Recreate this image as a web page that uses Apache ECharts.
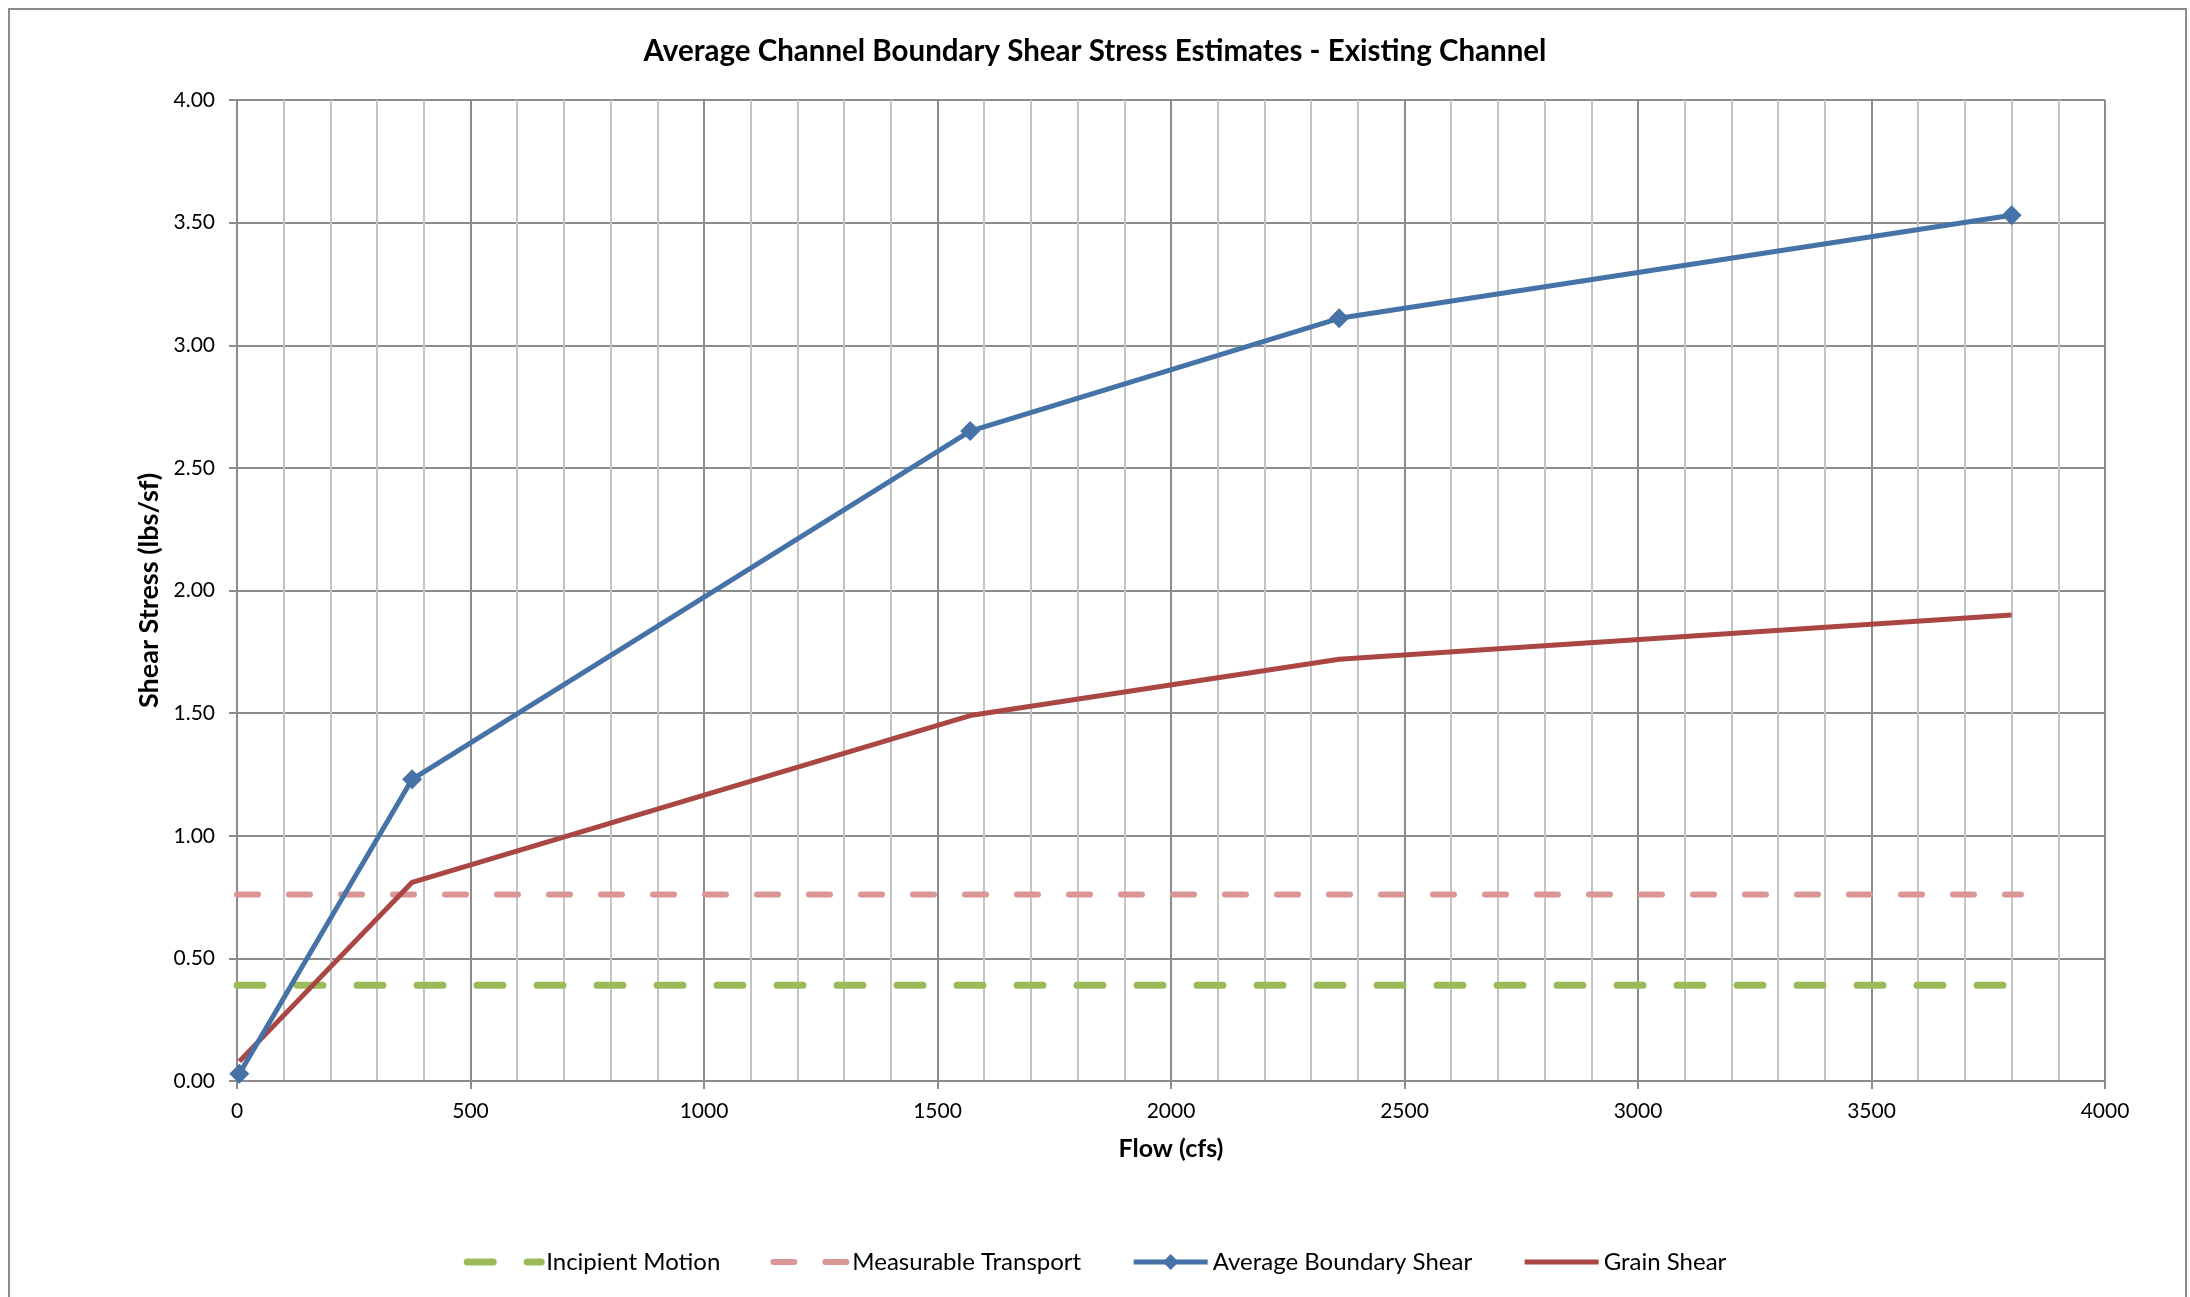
<!DOCTYPE html>
<html>
<head>
<meta charset="utf-8">
<script src="https://cdn.jsdelivr.net/npm/echarts@6/dist/echarts.min.js"></script>
<style>
  html, body { margin: 0; padding: 0; background: #fff; }
  #chart { width: 2190px; height: 1297px; }
</style>
</head>
<body>
<div id="chart"></div>
<script>
  // flows (cfs) and shear stress (lbs/sf)
  const flows = [5, 375, 1570, 2360, 3800];
  const avgBoundaryShear = [0.03, 1.23, 2.65, 3.11, 3.53];
  const grainShear = [0.08, 0.81, 1.49, 1.72, 1.90];
  const incipientFlow = [0, 3800];
  const incipientMotion = [0.39, 0.39];
  const transportFlow = [0, 3820];
  const measurableTransport = [0.76, 0.76];

  const FONT = 'Lato, "Open Sans", sans-serif';

  const pairs = (xs, ys) => xs.map((x, i) => [x, ys[i]]);

  let chart = echarts.init(document.getElementById('chart'));
  let option = {
    backgroundColor: '#fff',
    animation: false,
    textStyle: { fontFamily: FONT, color: '#000' },
    title: {
      text: 'Average Channel Boundary Shear Stress Estimates - Existing Channel',
      left: 'center',
      top: 31,
      textStyle: { fontFamily: FONT, fontSize: 29.5, fontWeight: 'bold', color: '#000' }
    },
    graphic: [{
      type: 'rect',
      shape: { x: 9, y: 9, width: 2177, height: 1320 },
      style: { fill: null, stroke: '#8c8c8c', lineWidth: 2 },
      silent: true
    }],
    legend: {
      top: 1245,
      left: 'center',
      itemWidth: 74,
      itemHeight: 20,
      itemGap: 50,
      textStyle: { fontFamily: FONT, fontSize: 24, color: '#000' },
      lineStyle: { width: 'inherit' },
      data: [
        { name: 'Incipient Motion', itemStyle: { opacity: 0 } },
        { name: 'Measurable Transport', itemStyle: { opacity: 0 } },
        { name: 'Average Boundary Shear' },
        { name: 'Grain Shear', itemStyle: { opacity: 0 } }
      ]
    },
    grid: { left: 237, right: 85, top: 100, bottom: 216 },
    xAxis: {
      type: 'value',
      min: 0, max: 4000, interval: 500,
      name: 'Flow (cfs)',
      nameLocation: 'middle',
      nameGap: 55,
      nameTextStyle: { fontFamily: FONT, fontSize: 25, fontWeight: 'bold', color: '#000' },
      axisLine: { lineStyle: { color: '#8c8c8c', width: 2 } },
      axisTick: { show: true, length: 8, lineStyle: { color: '#8c8c8c', width: 2 } },
      axisLabel: { fontFamily: FONT, fontSize: 21, color: '#000', margin: 20,
        formatter: v => String(v) },
      splitLine: { show: true, lineStyle: { color: '#8c8c8c', width: 2 } },
      minorTick: { show: false, splitNumber: 5 },
      minorSplitLine: { show: true, lineStyle: { color: '#c4c4c4', width: 2 } }
    },
    yAxis: {
      type: 'value',
      min: 0, max: 4, interval: 0.5,
      name: 'Shear Stress (lbs/sf)',
      nameLocation: 'middle',
      nameGap: 74,
      nameTextStyle: { fontFamily: FONT, fontSize: 27, fontWeight: 'bold', color: '#000' },
      axisLine: { show: true, lineStyle: { color: '#8c8c8c', width: 2 } },
      axisTick: { show: true, length: 8, lineStyle: { color: '#8c8c8c', width: 2 } },
      axisLabel: { fontFamily: FONT, fontSize: 21, color: '#000', margin: 22,
        formatter: v => v.toFixed(2) },
      splitLine: { show: true, lineStyle: { color: '#8c8c8c', width: 2 } }
    },
    series: [
      {
        name: 'Incipient Motion',
        type: 'line',
        data: pairs(incipientFlow, incipientMotion),
        symbol: 'none',
        color: '#9BBB59',
        lineStyle: { color: '#9BBB59', width: 7, type: [26, 34], cap: 'round' },
        z: 2
      },
      {
        name: 'Measurable Transport',
        type: 'line',
        data: pairs(transportFlow, measurableTransport),
        symbol: 'none',
        color: '#D99694',
        lineStyle: { color: '#D99694', width: 6, type: [21, 31], cap: 'round' },
        z: 2
      },
      {
        name: 'Average Boundary Shear',
        type: 'line',
        data: pairs(flows, avgBoundaryShear),
        symbol: 'diamond',
        symbolSize: 20,
        color: '#4572A7',
        itemStyle: { color: '#4572A7' },
        lineStyle: { color: '#4572A7', width: 5 },
        z: 4
      },
      {
        name: 'Grain Shear',
        type: 'line',
        data: pairs(flows, grainShear),
        symbol: 'none',
        color: '#AA4643',
        lineStyle: { color: '#AA4643', width: 5 },
        z: 3
      }
    ]
  };
  chart.setOption(option);
</script>
</body>
</html>
